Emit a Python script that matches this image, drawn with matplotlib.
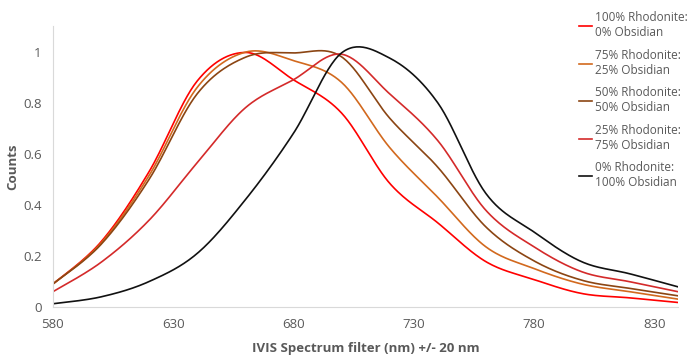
import numpy as np
import matplotlib
matplotlib.use("Agg")
import matplotlib.pyplot as plt

plt.rcParams['font.family'] = ['Open Sans', 'DejaVu Sans']

# IVIS filter centres (nm)
wavelength = [580, 600, 620, 640, 660, 680, 700, 720, 740, 760, 780, 800, 820, 840]

rh100 = [0.09, 0.255, 0.53, 0.885, 0.997, 0.89, 0.76, 0.485, 0.33, 0.178, 0.108, 0.053, 0.036, 0.018]
rh75 = [0.09, 0.25, 0.515, 0.86, 0.998, 0.965, 0.88, 0.625, 0.43, 0.236, 0.151, 0.09, 0.06, 0.031]
rh50 = [0.09, 0.245, 0.50, 0.835, 0.978, 0.995, 0.98, 0.74, 0.548, 0.314, 0.181, 0.105, 0.073, 0.044]
rh25 = [0.06, 0.175, 0.34, 0.565, 0.78, 0.89, 0.99, 0.835, 0.652, 0.379, 0.236, 0.138, 0.099, 0.06]
rh0 = [0.013, 0.04, 0.10, 0.21, 0.42, 0.68, 0.995, 0.975, 0.80, 0.445, 0.294, 0.177, 0.13, 0.079]

labels = ['100% Rhodonite:\n0% Obsidian', '75% Rhodonite:\n25% Obsidian',
          '50% Rhodonite:\n50% Obsidian', '25% Rhodonite:\n75% Obsidian',
          '0% Rhodonite:\n100% Obsidian']
colors = ['#FF0000', '#D2691E', '#8B4513', '#D42A2A', '#111111']


def smooth(x, y, n=30):
    # excel style smoothed line (bezier through points)
    x = np.asarray(x, float)
    y = np.asarray(y, float)
    px, py = [], []
    for i in range(len(x) - 1):
        i0 = max(i - 1, 0)
        i3 = min(i + 2, len(x) - 1)
        c1x = x[i] + (x[i + 1] - x[i0]) / 6
        c1y = y[i] + (y[i + 1] - y[i0]) / 6
        c2x = x[i + 1] - (x[i3] - x[i]) / 6
        c2y = y[i + 1] - (y[i3] - y[i]) / 6
        t = np.linspace(0, 1, n)
        bx = (1 - t) ** 3 * x[i] + 3 * (1 - t) ** 2 * t * c1x + 3 * (1 - t) * t ** 2 * c2x + t ** 3 * x[i + 1]
        by = (1 - t) ** 3 * y[i] + 3 * (1 - t) ** 2 * t * c1y + 3 * (1 - t) * t ** 2 * c2y + t ** 3 * y[i + 1]
        px.extend(bx)
        py.extend(by)
    return px, py


fig = plt.figure(figsize=(6.95, 3.63), dpi=100)
ax = fig.add_axes([0.076, 0.154, 0.9, 0.774])

for series, lab, col in zip([rh100, rh75, rh50, rh25, rh0], labels, colors):
    sx, sy = smooth(wavelength, series)
    ax.plot(sx, sy, color=col, lw=1.2, label=lab)

ax.set_xlim(580, 840)
ax.set_ylim(0, 1.1)
ax.set_xticks(range(580, 841, 50))
ax.set_yticks([0, 0.2, 0.4, 0.6, 0.8, 1])
ax.set_yticklabels(['0', '0.2', '0.4', '0.6', '0.8', '1'])

for s in ['top', 'right']:
    ax.spines[s].set_visible(False)
for s in ['bottom', 'left']:
    ax.spines[s].set_color('#D9D9D9')
ax.tick_params(length=0, colors='#595959', labelsize=9.5, pad=8)

ax.set_xlabel('IVIS Spectrum filter (nm) +/- 20 nm', fontsize=9.5, fontweight='bold', color='#595959', labelpad=8)
ax.set_ylabel('Counts', fontsize=9.5, fontweight='bold', color='#595959', labelpad=3)

leg = fig.legend(loc='upper left', bbox_to_anchor=(0.825, 0.985), frameon=False,
                 fontsize=8.5, handlelength=1.1, handletextpad=0.2, labelspacing=0.8,
                 borderpad=0)
for t in leg.get_texts():
    t.set_color('#595959')

fig.savefig('out.png', dpi=100)
